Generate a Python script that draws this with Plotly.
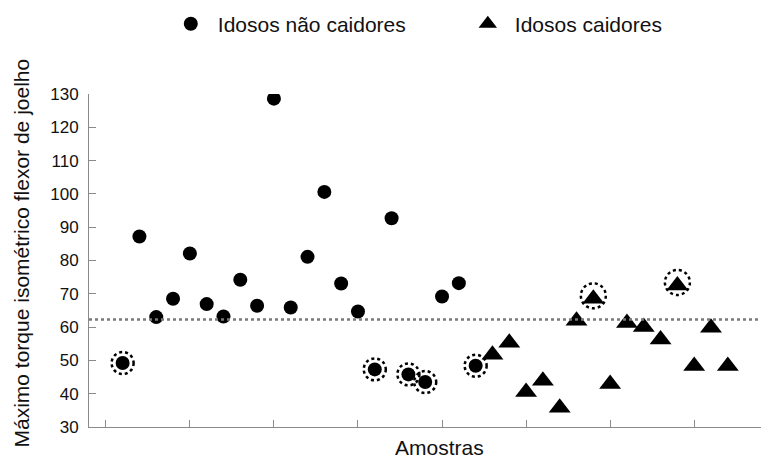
import plotly.graph_objects as go

# ---- data ----
amostras_nao_caidores = list(range(1, 23))
torque_nao_caidores = [49.2, 87.2, 63.0, 68.5, 82.1, 66.9, 63.2, 74.2, 66.4, 128.6,
                       65.9, 81.1, 100.6, 73.1, 64.7, 47.3, 92.7, 45.8, 43.5, 69.2,
                       73.2, 48.4]
amostras_caidores = list(range(23, 38))
torque_caidores = [51.7, 55.3, 40.5, 43.9, 35.8, 61.9, 68.5, 42.9, 61.2, 60.0,
                   56.3, 72.5, 48.3, 59.8, 48.3]
amostras_destacadas = [1, 16, 18, 19, 22, 29, 34]
ponto_corte = 62.3
y_ticks = [30, 40, 50, 60, 70, 80, 90, 100, 110, 120, 130]
x_ticks = [0, 5, 10, 15, 20, 25, 30, 35]

FONT = "Liberation Sans, Arial, sans-serif"
AXIS_COLOR = "#8a8a8a"

fig = go.Figure()
fig.add_trace(go.Scatter(
    x=amostras_nao_caidores, y=torque_nao_caidores, mode="markers",
    name="Idosos não caidores",
    marker=dict(symbol="circle", size=14, color="black"),
))
fig.add_trace(go.Scatter(
    x=amostras_caidores, y=torque_caidores, mode="markers",
    name="Idosos caidores",
    marker=dict(symbol="triangle-up", size=19, color="black"),
))

# dotted rings around highlighted samples
lookup = dict(zip(amostras_nao_caidores, torque_nao_caidores))
lookup_tri = dict(zip(amostras_caidores, torque_caidores))
for a in amostras_destacadas:
    if a in lookup:
        yv, r, dy = lookup[a], 11, 0
    else:
        yv, r, dy = lookup_tri[a], 12.5, 3
    fig.add_shape(type="circle", xref="x", yref="y",
                  xsizemode="pixel", ysizemode="pixel",
                  xanchor=a, yanchor=yv,
                  x0=-r, x1=r, y0=-r + dy, y1=r + dy,
                  line=dict(color="black", width=2.5, dash="dot"))

# cut-off dotted line
fig.add_hline(y=ponto_corte, line=dict(color="#7a7a7a", width=2.5, dash="dot"))

# the page body adds an 8 px offset, so the figure is 8 px smaller on each side
fig.update_layout(
    width=761, height=450,
    margin=dict(l=81, r=0, t=86, b=31, autoexpand=False),
    paper_bgcolor="white", plot_bgcolor="white",
    font=dict(family=FONT, color="#111111"),
    showlegend=True,
    legend=dict(orientation="h", x=0.11, xanchor="left", y=1.21, yanchor="middle",
                font=dict(size=21, family=FONT, color="#111111"),
                entrywidth=238, entrywidthmode="pixels", itemwidth=44,
                bgcolor="rgba(0,0,0,0)"),
    xaxis=dict(range=[-1, 39.45], tickvals=x_ticks, ticktext=["" for _ in x_ticks],
               ticks="inside", ticklen=7, tickcolor=AXIS_COLOR, tickwidth=1,
               showline=True, linecolor=AXIS_COLOR, linewidth=1,
               showgrid=False, zeroline=False),
    yaxis=dict(range=[30, 130], tickvals=y_ticks,
               ticks="inside", ticklen=7, tickcolor=AXIS_COLOR, tickwidth=1,
               showline=True, linecolor=AXIS_COLOR, linewidth=1,
               showgrid=False, zeroline=False,
               tickfont=dict(size=17, family=FONT, color="#111111"),
               ticklabelstandoff=6),
    annotations=[
        dict(text="Máximo torque isométrico flexor de joelho", textangle=-90,
             xref="paper", yref="paper", x=0, y=0.5, xanchor="center", yanchor="middle",
             xshift=-68, yshift=7, showarrow=False,
             font=dict(size=21, family=FONT, color="#111111")),
        dict(text="Amostras", xref="paper", yref="paper", x=0.5, y=0,
             xanchor="center", yanchor="middle", xshift=10, yshift=-20,
             showarrow=False, font=dict(size=21, family=FONT, color="#111111")),
    ],
)

fig.write_html("out.html")
